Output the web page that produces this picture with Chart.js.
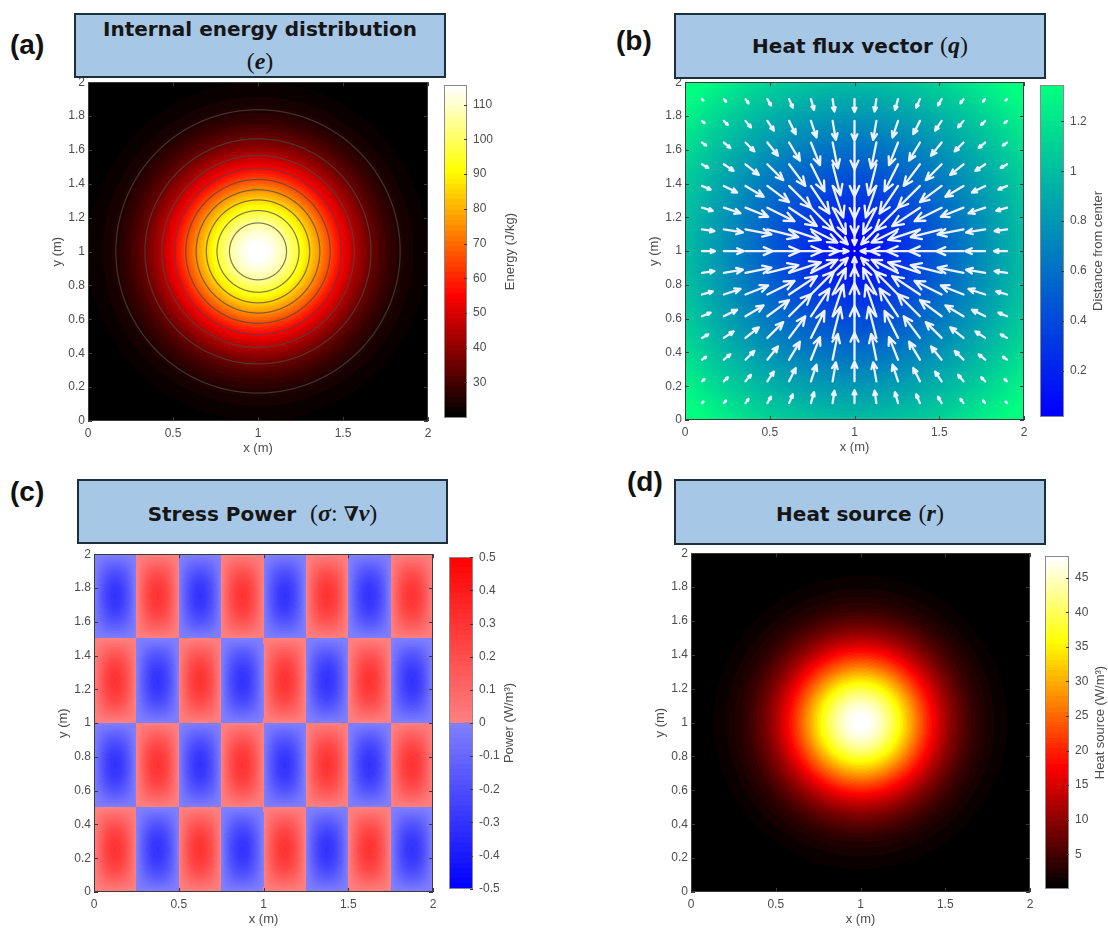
<!DOCTYPE html>
<html>
<head>
<meta charset="utf-8">
<script src="https://cdn.jsdelivr.net/npm/chart.js@4.4.1/dist/chart.umd.min.js"></script>
<style>
  html, body { margin: 0; padding: 0; background: #fff; }
  body { width: 1108px; height: 931px; position: relative; overflow: hidden; font-family: "Liberation Sans", Arial, sans-serif; }
  canvas { position: absolute; }
  .tag { position: absolute; font: bold 28px/28px "Liberation Sans", Arial, sans-serif; color: #111; }
  .head { position: absolute; box-sizing: border-box; background: #a7c7e7; border: 2px solid #1d2e3d;
          font: bold 20px "DejaVu Sans", "Liberation Sans", sans-serif; color: #161616; text-align: center; }
  .head div { position: absolute; left: 0; width: 100%; white-space: nowrap; }
  .m { font-family: "Liberation Serif", "DejaVu Serif", serif; font-style: italic; font-weight: bold; font-size: 24px; }
  .p { font-family: "Liberation Serif", "DejaVu Serif", serif; font-weight: normal; font-size: 24px; }
  .n { font-family: "DejaVu Serif", serif; font-weight: bold; font-size: 20px; }
</style>
</head>
<body>
<canvas id="mapA"></canvas><canvas id="barA"></canvas>
<canvas id="mapB"></canvas><canvas id="barB"></canvas>
<canvas id="mapC"></canvas><canvas id="barC"></canvas>
<canvas id="mapD"></canvas><canvas id="barD"></canvas>

<div class="tag" style="left:10px;top:31px">(a)</div>
<div class="tag" style="left:616px;top:27px">(b)</div>
<div class="tag" style="left:10px;top:478px">(c)</div>
<div class="tag" style="left:627px;top:468px">(d)</div>

<div class="head" style="left:74px;top:13px;width:372px;height:65px">
  <div style="top:2px">Internal energy distribution</div>
  <div style="top:33px"><span class="p">(</span><span class="m">e</span><span class="p">)</span></div>
</div>
<div class="head" style="left:674px;top:13px;width:372px;height:66px">
  <div style="top:17px">Heat flux vector <span class="p">(</span><span class="m">q</span><span class="p">)</span></div>
</div>
<div class="head" style="left:77px;top:479px;width:371px;height:65px">
  <div style="top:19px">Stress Power&nbsp;&nbsp;<span class="p">(</span><span class="m">σ</span><span class="p">: </span><span class="n">∇</span><span class="m">v</span><span class="p">)</span></div>
</div>
<div class="head" style="left:674px;top:479px;width:372px;height:66px">
  <div style="top:19px">Heat source <span class="p">(</span><span class="m">r</span><span class="p">)</span></div>
</div>

<script>
// shared axes of the four maps
const xTicks = [0, 0.5, 1, 1.5, 2];
const yTicks = [0, 0.2, 0.4, 0.6, 0.8, 1, 1.2, 1.4, 1.6, 1.8, 2];
const center = [1, 1];

// (a) internal energy: base, amplitude, spread
const energyGauss = [19.8, 95.8, 0.24];
const energyLimits = [19.8, 115.6];
const energyTicks = [30, 40, 50, 60, 70, 80, 90, 100, 110];
const energyLevels = [25, 35, 45, 55, 65, 75, 85, 95, 105];

// (b) heat flux arrows on a 15 x 15 grid, background = distance from center
const fluxGrid = [0.1, 0.229, 0.357, 0.486, 0.614, 0.743, 0.871, 1, 1.129, 1.257, 1.386, 1.514, 1.643, 1.771, 1.9];
const fluxGauss = [0.76, 0.37];
const distLimits = [0.016, 1.345];
const distTicks = [0.2, 0.4, 0.6, 0.8, 1, 1.2];

// (c) stress power: amplitude, waves per metre along x, along y
const stressWaves = [0.3, 2, 1];
const powerLimits = [-0.5, 0.5];
const powerTicks = [-0.5, -0.4, -0.3, -0.2, -0.1, 0, 0.1, 0.2, 0.3, 0.4, 0.5];

// (d) heat source: base, amplitude, spread
const sourceGauss = [0, 48.1, 0.18];
const sourceLimits = [0, 48.1];
const sourceTicks = [5, 10, 15, 20, 25, 30, 35, 40, 45];

const TXT = '#4d4d4d';
Chart.defaults.font.family = '"Liberation Sans", Arial, sans-serif';

function gauss(p, x, y) {
    const r2 = (x - center[0]) ** 2 + (y - center[1]) ** 2;
    return p[0] + p[1] * Math.exp(-r2 / p[2]);
}
function flux(x, y) {
    const dx = center[0] - x, dy = center[1] - y;
    const k = fluxGauss[0] * Math.exp(-(dx * dx + dy * dy) / fluxGauss[1]);
    return [k * dx, k * dy];
}

// colormaps, 64 entries like the matlab ones
function hot(f) {
    const n = 64, k = 24, i = Math.min(n - 1, Math.floor(f * n));
    const r = i < k ? i / (k - 1) : 1;
    const g = i < k ? 0 : (i < 2 * k ? (i - k + 1) / k : 1);
    const b = i < 2 * k ? 0 : (i - 2 * k + 1) / (n - 2 * k);
    return [r, g, b];
}
function winter(f) {
    const i = Math.min(63, Math.floor(f * 64)), g = i / 63;
    return [0, g, 1 - g / 2];
}
function redBlue(f) {
    const i = Math.min(63, Math.floor(f * 64)), t = (i + 0.5) / 64;
    if (t >= 0.5) {
        const s = 0.5 * (1 - (t - 0.5) / 0.5);
        return [1, s, s];
    }
    const s = 0.5 * (1 - (0.5 - t) / 0.5);
    return [s, s, 1];
}

// fills an offscreen bitmap from a per-pixel colour function
function bitmap(w, h, colourAt) {
    const off = document.createElement('canvas');
    off.width = w; off.height = h;
    const octx = off.getContext('2d');
    const img = octx.createImageData(w, h);
    for (let j = 0; j < h; j++) {
        for (let i = 0; i < w; i++) {
            const c = colourAt(i, j), k = (j * w + i) * 4;
            img.data[k] = c[0]; img.data[k + 1] = c[1]; img.data[k + 2] = c[2]; img.data[k + 3] = 255;
        }
    }
    octx.putImageData(img, 0, 0);
    return off;
}

// paints the field pixel by pixel through the chart scales, with optional contour lines
function makeField(spec) {
    return {
        id: 'field',
        beforeDatasetsDraw(chart) {
            const {ctx, chartArea: a, scales} = chart;
            const w = Math.round(a.width), h = Math.round(a.height);
            const vals = new Float64Array(w * h);
            for (let j = 0; j < h; j++) {
                const yv = scales.y.getValueForPixel(a.top + j + 0.5);
                for (let i = 0; i < w; i++) {
                    vals[j * w + i] = spec.value(scales.x.getValueForPixel(a.left + i + 0.5), yv);
                }
            }
            const [lo, hi] = spec.limits;
            const off = bitmap(w, h, (i, j) => {
                const v = vals[j * w + i];
                const c = spec.cmap(Math.min(1, Math.max(0, (v - lo) / (hi - lo))));
                let rgb = [c[0] * 255, c[1] * 255, c[2] * 255];
                if (spec.levels) {
                    const gx = (vals[j * w + Math.min(w - 1, i + 1)] - vals[j * w + Math.max(0, i - 1)]) / 2;
                    const gy = (vals[Math.min(h - 1, j + 1) * w + i] - vals[Math.max(0, j - 1) * w + i]) / 2;
                    const g = Math.hypot(gx, gy) || 1e-9;
                    let d = Infinity;
                    spec.levels.forEach(L => { d = Math.min(d, Math.abs(v - L) / g); });
                    const al = Math.max(0, Math.min(1, 0.6 + 0.5 - d)) * 0.72;
                    rgb = rgb.map(ch => ch * (1 - al) + 72 * al);
                }
                return rgb;
            });
            ctx.drawImage(off, Math.round(a.left), Math.round(a.top));
        }
    };
}

// axes box with inward ticks
const frame = {
    id: 'frame',
    afterDraw(chart) {
        const {ctx, chartArea: a, scales: {x, y}} = chart;
        ctx.save();
        ctx.strokeStyle = '#3a3a3a';
        ctx.lineWidth = 1;
        ctx.strokeRect(Math.round(a.left) + 0.5, Math.round(a.top) + 0.5, Math.round(a.width) - 1, Math.round(a.height) - 1);
        ctx.beginPath();
        x.ticks.forEach(t => {
            const px = Math.round(x.getPixelForValue(t.value)) + 0.5;
            ctx.moveTo(px, a.bottom); ctx.lineTo(px, a.bottom - 4);
            ctx.moveTo(px, a.top); ctx.lineTo(px, a.top + 4);
        });
        y.ticks.forEach(t => {
            const py = Math.round(y.getPixelForValue(t.value)) + 0.5;
            ctx.moveTo(a.left, py); ctx.lineTo(a.left + 4, py);
            ctx.moveTo(a.right, py); ctx.lineTo(a.right - 4, py);
        });
        ctx.stroke();
        ctx.restore();
    }
};

// white quiver arrows of the heat flux
const quiver = {
    id: 'quiver',
    afterDatasetsDraw(chart) {
        const {ctx, scales: {x, y}} = chart;
        ctx.save();
        ctx.strokeStyle = '#eef1ff';
        ctx.lineWidth = 2.3;
        ctx.lineCap = 'round';
        ctx.lineJoin = 'round';
        chart.data.datasets[0].data.forEach(p => {
            const [u, v] = flux(p.x, p.y);
            const x0 = x.getPixelForValue(p.x), y0 = y.getPixelForValue(p.y);
            const x1 = x.getPixelForValue(p.x + u), y1 = y.getPixelForValue(p.y + v);
            const len = Math.hypot(x1 - x0, y1 - y0);
            const ang = Math.atan2(y1 - y0, x1 - x0), hl = 0.36 * len;
            ctx.beginPath();
            ctx.moveTo(x0, y0); ctx.lineTo(x1, y1);
            ctx.moveTo(x1 - hl * Math.cos(ang - 0.42), y1 - hl * Math.sin(ang - 0.42));
            ctx.lineTo(x1, y1);
            ctx.lineTo(x1 - hl * Math.cos(ang + 0.42), y1 - hl * Math.sin(ang + 0.42));
            ctx.stroke();
        });
        ctx.restore();
    }
};

const tickFont = {size: 12};
const titleFont = {size: 13};
const fmt = v => String(+Number(v).toFixed(2));

function place(el, left, top, w, h) {
    el.width = w; el.height = h;
    el.style.left = left + 'px';
    el.style.top = top + 'px';
}

function makeMap(id, box, field, datasets, extra) {
    const [L, T, W, H] = box;
    const el = document.getElementById(id);
    place(el, L - 38, T - 10, 38 + W + 12, 10 + H + 35);
    return new Chart(el, {
        type: 'scatter',
        data: {datasets: datasets},
        options: {
            responsive: false, animation: false, devicePixelRatio: 1,
            layout: {padding: {left: 0, top: 10, right: 12, bottom: 0}},
            plugins: {legend: {display: false}, tooltip: {enabled: false}},
            scales: {
                x: {
                    type: 'linear', min: 0, max: 2,
                    afterBuildTicks: s => { s.ticks = xTicks.map(v => ({value: v})); },
                    afterFit: s => { s.height = 35; },
                    grid: {display: false, drawTicks: false}, border: {display: false},
                    ticks: {color: TXT, font: tickFont, padding: 5, maxRotation: 0, autoSkip: false, callback: fmt},
                    title: {display: true, text: 'x (m)', color: TXT, font: titleFont, padding: 0}
                },
                y: {
                    type: 'linear', min: 0, max: 2,
                    afterBuildTicks: s => { s.ticks = yTicks.map(v => ({value: v})); },
                    afterFit: s => { s.width = 38; },
                    grid: {display: false, drawTicks: false}, border: {display: false},
                    ticks: {color: TXT, font: tickFont, padding: 3, autoSkip: false, callback: fmt},
                    title: {display: true, text: 'y (m)', color: TXT, font: titleFont, padding: 0}
                }
            }
        },
        plugins: [makeField(field), frame].concat(extra || [])
    });
}

function makeBar(id, box, limits, ticks, cmap, label, labelGap) {
    const [L, T, W, H] = box;
    const el = document.getElementById(id);
    place(el, L, T - 10, W + 70, H + 20);
    const strip = {
        id: 'strip',
        beforeDatasetsDraw(chart) {
            const {ctx, chartArea: a, scales: {y}} = chart;
            const [lo, hi] = limits;
            const w = Math.round(a.width), h = Math.round(a.height);
            const off = bitmap(w, h, (i, j) => {
                const v = y.getValueForPixel(a.top + j + 0.5);
                const c = cmap(Math.min(1, Math.max(0, (v - lo) / (hi - lo))));
                return [c[0] * 255, c[1] * 255, c[2] * 255];
            });
            ctx.drawImage(off, Math.round(a.left), Math.round(a.top));
        },
        afterDraw(chart) {
            const {ctx, chartArea: a, scales: {y}} = chart;
            ctx.save();
            ctx.strokeStyle = '#8a8a8a';
            ctx.lineWidth = 1;
            ctx.strokeRect(Math.round(a.left) + 0.5, Math.round(a.top) + 0.5, Math.round(a.width) - 1, Math.round(a.height) - 1);
            ctx.strokeStyle = '#3a3a3a';
            ctx.beginPath();
            y.ticks.forEach(t => {
                const py = Math.round(y.getPixelForValue(t.value)) + 0.5;
                ctx.moveTo(a.right, py); ctx.lineTo(a.right - 3, py);
            });
            ctx.stroke();
            ctx.translate(a.right + labelGap, (a.top + a.bottom) / 2);
            ctx.rotate(-Math.PI / 2);
            ctx.fillStyle = TXT;
            ctx.font = '13px "Liberation Sans", Arial, sans-serif';
            ctx.textAlign = 'center';
            ctx.textBaseline = 'middle';
            ctx.fillText(label, 0, 0);
            ctx.restore();
        }
    };
    return new Chart(el, {
        type: 'scatter',
        data: {datasets: []},
        options: {
            responsive: false, animation: false, devicePixelRatio: 1,
            layout: {padding: {left: 0, top: 10, right: 0, bottom: 10}},
            plugins: {legend: {display: false}, tooltip: {enabled: false}},
            scales: {
                x: {display: false, min: 0, max: 1},
                y: {
                    position: 'right', min: limits[0], max: limits[1],
                    afterBuildTicks: s => { s.ticks = ticks.map(v => ({value: v})); },
                    afterFit: s => { s.width = 70; },
                    grid: {display: false, drawTicks: false}, border: {display: false},
                    ticks: {color: TXT, font: tickFont, padding: 6, autoSkip: false, callback: fmt}
                }
            }
        },
        plugins: [strip]
    });
}

// quiver anchor points
const fluxPoints = [];
fluxGrid.forEach(gx => fluxGrid.forEach(gy => fluxPoints.push({x: gx, y: gy})));

makeMap('mapA', [88, 82, 340, 339], {
    value: (x, y) => gauss(energyGauss, x, y), limits: energyLimits, cmap: hot, levels: energyLevels
}, []);
makeBar('barA', [444, 82, 23, 339], energyLimits, energyTicks, hot, 'Energy (J/kg)', 43);

makeMap('mapB', [685, 82, 339, 338], {
    value: (x, y) => Math.hypot(x - center[0], y - center[1]), limits: distLimits, cmap: winter
}, [{data: fluxPoints, pointRadius: 0, showLine: false}], [quiver]);
makeBar('barB', [1040, 82, 24, 338], distLimits, distTicks, winter, 'Distance from center', 34);

makeMap('mapC', [94, 554, 339, 338], {
    value: (x, y) => stressWaves[0] * Math.sin(2 * Math.PI * stressWaves[1] * x) * Math.sin(2 * Math.PI * stressWaves[2] * y),
    limits: powerLimits, cmap: redBlue
}, []);
makeBar('barC', [449, 554, 24, 338], powerLimits, powerTicks, redBlue, 'Power (W/m³)', 36);

makeMap('mapD', [691, 553, 339, 339], {
    value: (x, y) => gauss(sourceGauss, x, y), limits: sourceLimits, cmap: hot
}, []);
makeBar('barD', [1045, 553, 24, 339], sourceLimits, sourceTicks, hot, 'Heat source (W/m³)', 31);
</script>
</body>
</html>
